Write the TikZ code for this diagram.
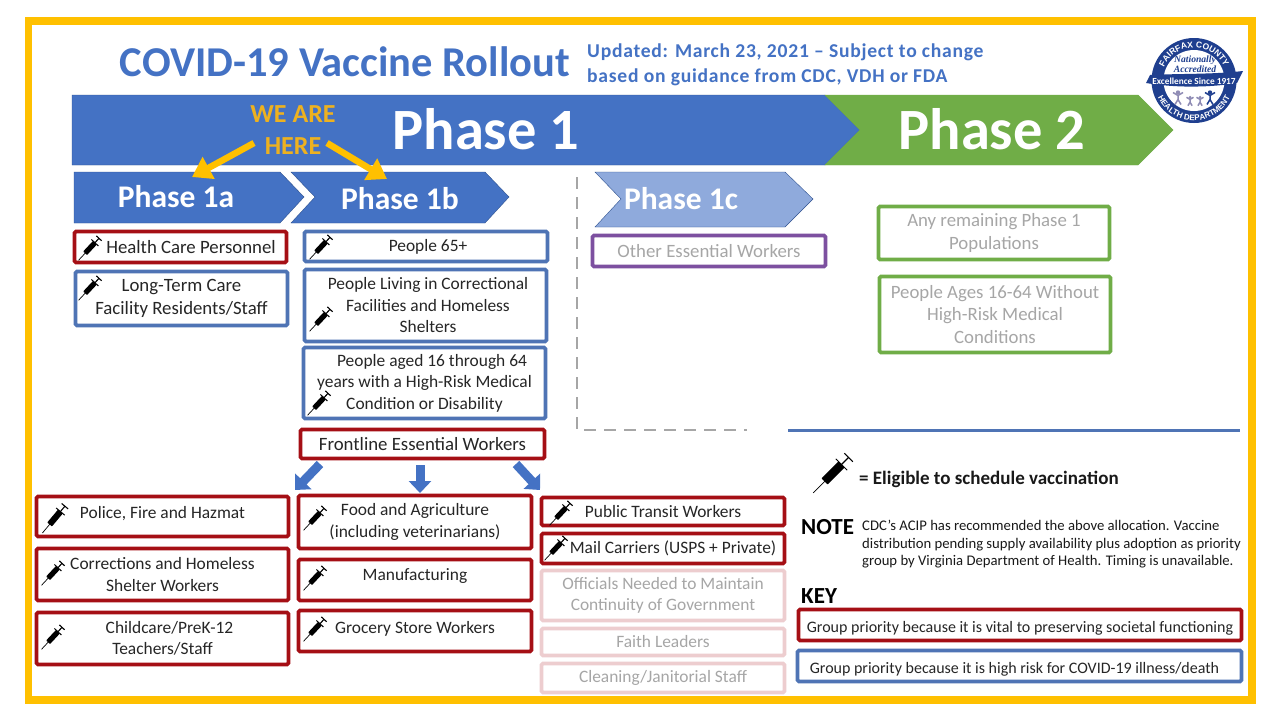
\documentclass[tikz,border=0pt]{standalone}
\usepackage{fontspec}
\setmainfont{Carlito}
\newfontfamily\logofont{Liberation Serif}
\newfontfamily\logosans{Liberation Sans}
\newfontfamily\updatedfont[LetterSpace=3.8]{Carlito}
\usetikzlibrary{arrows.meta, positioning, decorations.text}
\definecolor{frameyellow}{HTML}{FFC000}
\definecolor{phaseblue}{HTML}{4472C4}
\definecolor{phaselight}{HTML}{8FAADC}
\definecolor{phasegreen}{HTML}{70AD47}
\definecolor{edgeblue}{HTML}{2F528F}
\definecolor{boxred}{HTML}{A50F15}
\definecolor{boxblue}{HTML}{4F74B5}
\definecolor{boxpurple}{HTML}{7D50A0}
\definecolor{boxpink}{HTML}{EDCDCF}
\definecolor{fadedtext}{HTML}{A6A6A6}
\definecolor{hereyellow}{HTML}{EDB120}
\definecolor{logoblue}{HTML}{1F3F8F}
\definecolor{logogrey}{HTML}{8F8CB5}
\tikzset{
  itembox/.style={draw, line width=3.7pt, rounded corners=1.5pt, fill=white, align=center, inner sep=0pt,
    text=black!85, font=\fontsize{17.4}{21.5}\selectfont},
  redbox/.style={itembox, draw=boxred},
  bluebox/.style={itembox, draw=boxblue},
  largetext/.style={font=\fontsize{18.8}{22.5}\selectfont},
  keytext/.style={font=\fontsize{16}{20}\selectfont},
  purplebox/.style={itembox, largetext, draw=boxpurple, text=fadedtext},
  greenbox/.style={itembox, largetext, draw=phasegreen, text=fadedtext},
  pinkbox/.style={itembox, draw=boxpink, text=fadedtext},
  bigphase/.style={text=white, font=\fontsize{58.5}{64}\selectfont\bfseries},
  smallphase/.style={text=white, font=\fontsize{31.5}{36}\selectfont\bfseries},
  herearrow/.style={draw=frameyellow, line width=6.5pt, -{Triangle[length=19pt,width=24pt]}},
  downarrow/.style={draw=phaseblue, line width=9pt, -{Triangle[length=12pt,width=22pt]}},
  syringe/.pic={
    \draw[line width=.7pt] (-14,0) -- (-5,0);
    \fill[rounded corners=.6pt] (-6,-2.2) rectangle (6,2.2);
    \draw[line width=1pt] (6,-4) -- (6,4);
    \draw[line width=1.1pt] (6,0) -- (11,0);
    \draw[line width=1.1pt] (11,-3) -- (11,3);
  },
  person/.pic={
    \fill (0,6) circle (2.2);
    \draw[line width=1.5pt] (0,4) -- (0,-1) (0,-1) -- (-3,-6) (0,-1) -- (3,-6) (-5,6) -- (0,3) -- (5,6);
  }
}
\begin{document}
\begin{tikzpicture}[x=1pt,y=-1pt]
\useasboundingbox (0,0) rectangle (1280,720);
% frame
\fill[frameyellow] (24.5,17) rectangle (1256,704);
\fill[white] (32,25) rectangle (1248,696);
% heading
\node at (345,62) (title) {\textcolor{phaseblue}{\fontsize{42.5}{48}\selectfont\bfseries COVID-19 Vaccine Rollout}};
\node[anchor=west, align=left, text=phaseblue, inner sep=0pt, font=\updatedfont\fontsize{19.6}{25.5}\selectfont\bfseries] at (587,65) (updated)
  {Updated: March 23, 2021 \textendash{} Subject to change\\based on guidance from CDC, VDH or FDA};
% main phases
\filldraw[fill=phaseblue, draw=edgeblue] (72,95) -- (825,95) -- (860,130) -- (825,165) -- (72,165) -- cycle;
\filldraw[fill=phasegreen, draw=phasegreen] (825,95) -- (1138,95) -- (1173,130) -- (1138,165) -- (825,165) -- (860,130) -- cycle;
\node[bigphase] at (486,129) (phaseone) {Phase 1};
\node[bigphase] at (992,129) (phasetwo) {Phase 2};
\filldraw[fill=phaseblue, draw=edgeblue] (74,172) -- (280,172) -- (304,197) -- (280,223) -- (74,223) -- cycle;
\filldraw[fill=phaseblue, draw=edgeblue] (291,172) -- (485,172) -- (509,197) -- (485,223) -- (291,223) -- (315,197) -- cycle;
\filldraw[fill=phaselight, draw=edgeblue] (595,172) -- (785,172) -- (813,199) -- (785,227) -- (595,227) -- (621,199) -- cycle;
\node[smallphase] at (176,197) (phaseonea) {Phase 1a};
\node[smallphase] at (400,199) (phaseoneb) {Phase 1b};
\node[smallphase] at (681,199) (phaseonec) {Phase 1c};
% we are here
\node[align=center, text=hereyellow, font=\fontsize{26}{32}\selectfont\bfseries] at (293,130) (here) {WE ARE\\HERE};
\coordinate (hereleft) at (254,143);
\coordinate (hereright) at (327,143);
\coordinate (tipleft) at (192,177);
\coordinate (tipright) at (387,179);
\draw[herearrow] (hereleft) -- (tipleft);
\draw[herearrow] (hereright) -- (tipright);
% separators
\draw[dashed, draw=black!35, line width=2.4pt, dash pattern=on 12pt off 8pt] (577,177) -- (577,430) -- (747,430);
\draw[draw=boxblue, line width=2.5pt] (788,430.5) -- (1240,430.5);
% phase 1a
\node[redbox, largetext, minimum width=212, minimum height=31] at (180.5,247) (personnel) {\hspace{21pt}Health Care Personnel};
\node[bluebox, largetext, minimum width=212, minimum height=54] at (181.5,298.5) (residents) {Long-Term Care\\Facility Residents/Staff};
% phase 1b
\node[bluebox, minimum width=243, minimum height=30] at (426,246.5) (seniors) {\hspace{4pt}People 65+};
\node[bluebox, minimum width=242, minimum height=72] at (425.5,305.5) (shelters) {\hspace{5pt}People Living in Correctional\\\hspace{5pt}Facilities and Homeless\\\hspace{5pt}Shelters};
\node[bluebox, minimum width=242, minimum height=71] at (424.5,383) (highrisk) {\hspace{15pt}People aged 16 through 64\\years with a High-Risk Medical\\Condition or Disability};
\node[redbox, largetext, minimum width=244, minimum height=29] at (422.5,444) (frontline) {Frontline Essential Workers};
% phase 1c and phase 2
\node[purplebox, minimum width=233, minimum height=31] at (709,251) (otherworkers) {Other Essential Workers};
\node[greenbox, minimum width=231, minimum height=53] at (994,233) (remaining) {Any remaining Phase 1\\Populations};
\node[greenbox, minimum width=231, minimum height=76] at (995,314.5) (adults) {People Ages 16-64 Without\\High-Risk Medical\\Conditions};
% frontline groups
\node[redbox, minimum width=252, minimum height=40] at (162.5,516.5) (police) {\raisebox{8pt}{Police, Fire and Hazmat}};
\node[redbox, minimum width=252, minimum height=52] at (162.5,574.5) (corrections) {Corrections and Homeless\\Shelter Workers};
\node[redbox, minimum width=252, minimum height=52] at (162.5,638.5) (childcare) {\hspace{14pt}Childcare/PreK-12\\Teachers/Staff};
\node[redbox, minimum width=233, minimum height=53] at (415,522) (food) {Food and Agriculture\\(including veterinarians)};
\node[redbox, minimum width=233, minimum height=41] at (415,580) (manufacturing) {\raisebox{10pt}{Manufacturing}};
\node[redbox, minimum width=233, minimum height=41] at (415,631) (grocery) {\raisebox{8pt}{Grocery Store Workers}};
\node[redbox, minimum width=243, minimum height=28] at (663,511.5) (transit) {Public Transit Workers};
\node[redbox, minimum width=243, minimum height=30] at (663,548.5) (mail) {\hspace{20pt}Mail Carriers (USPS + Private)};
\node[pinkbox, minimum width=243, minimum height=50] at (663,595.5) (officials) {Officials Needed to Maintain\\Continuity of Government};
\node[pinkbox, minimum width=243, minimum height=27] at (663,642) (faith) {Faith Leaders};
\node[pinkbox, minimum width=243, minimum height=29] at (663,678) (cleaning) {Cleaning/Janitorial Staff};
% arrows to the groups
\coordinate (fromleft) at (320,464);
\coordinate (frommiddle) at (420,465);
\coordinate (fromright) at (516,464);
\coordinate (toleft) at (295,490);
\coordinate (tomiddle) at (420,493);
\coordinate (toright) at (540,490);
\draw[downarrow] (fromleft) -- (toleft);
\draw[downarrow] (frommiddle) -- (tomiddle);
\draw[downarrow] (fromright) -- (toright);
% syringes
\foreach \sx/\sy in {90/248, 90/288, 321/247, 321/319, 319/403, 315/518, 315/578, 315/629, 561/513, 556/548, 53/573, 53/637}
  \pic[rotate=47, scale=1.2] at (\sx,\sy) {syringe};
\pic[rotate=50, scale=1.4] at (55,518) {syringe};
\pic[rotate=45, scale=2] at (833,473) {syringe};
% legend
\node[anchor=west, inner sep=0pt, text=black!90, font=\fontsize{19}{23}\selectfont\bfseries] at (859,479) (eligible) {= Eligible to schedule vaccination};
\node[anchor=west, inner sep=0pt, text=black, font=\fontsize{23}{26}\selectfont\bfseries] at (801,527) (note) {NOTE};
\node[anchor=north west, align=left, inner sep=0pt, text=black!90, font=\fontsize{14.7}{17.6}\selectfont] at (862,520) (notetext)
  {CDC's ACIP has recommended the above allocation. Vaccine\\distribution pending supply availability plus adoption as priority\\group by Virginia Department of Health. Timing is unavailable.};
\node[anchor=west, inner sep=0pt, text=black, font=\fontsize{23}{26}\selectfont\bfseries] at (801,596) (keytitle) {KEY};
\node[redbox, keytext, minimum width=443, minimum height=31] at (1020,625) (keyred) {\raisebox{-5pt}[8pt][3pt]{Group priority because it is vital to preserving societal functioning}};
\node[bluebox, keytext, minimum width=444, minimum height=31] at (1019.5,666) (keyblue) {\hspace{-10pt}\raisebox{-5pt}[8pt][3pt]{Group priority because it is high risk for COVID-19 illness/death}};
% logo
\begin{scope}[shift={(1194,80.5)}, x=1pt, y=1pt]
\fill[logoblue] (0,0) circle (42.5);
\fill[white] (0,0) circle (30.5);
\path[decorate, decoration={text along path, text align=center, text color=white,
  text={|\logosans\fontsize{8.6}{12}\selectfont\bfseries|FAIRFAX COUNTY}}] (160:33) arc (160:20:33);
\path[decorate, decoration={text along path, text align=center, text color=white,
  text={|\logosans\fontsize{8}{12}\selectfont\bfseries|HEALTH DEPARTMENT}}] (195:40) arc (195:345:40);
\node[align=center, text=logoblue, font=\logofont\fontsize{9.6}{9.6}\selectfont\bfseries\itshape] at (1,16) (accredited) {Nationally\\Accredited};
\fill[logoblue] (-48,-2.5) -- (-44,5.5) .. controls (-15,7) and (20,6) .. (49,9.5) -- (43,-2.5) .. controls (20,-6.5) and (-15,-8) .. cycle;
\node[text=white, font=\fontsize{9.3}{12}\selectfont\bfseries] at (0,-0.5) (excellence) {Excellence Since 1917};
\pic[draw=logogrey, fill=logogrey, logogrey, scale=1] at (-16,-18) {person};
\pic[draw=logogrey, fill=logogrey, logogrey, scale=.7] at (-4,-21) {person};
\pic[draw=logogrey, fill=logogrey, logogrey, scale=.7] at (6,-21) {person};
\pic[draw=logoblue, fill=logoblue, logoblue, scale=1] at (16,-18) {person};
\end{scope}
\end{tikzpicture}
\end{document}
